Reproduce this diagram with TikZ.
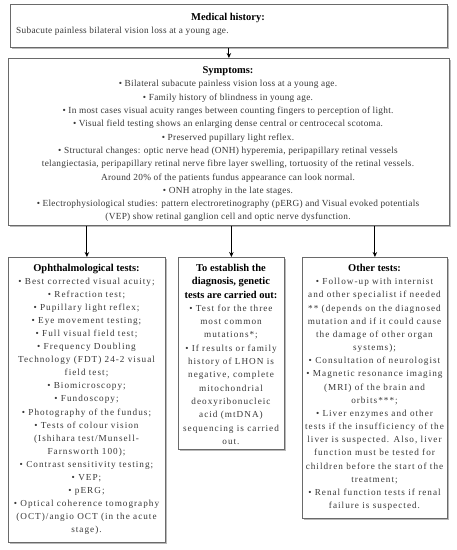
\documentclass[tikz,border=0pt]{standalone}
\usepackage{fontspec}
\setmainfont{Liberation Serif}
\newfontfamily\symfont[LetterSpace=3]{Liberation Serif}
\newfontfamily\lowfont[LetterSpace=11]{Liberation Serif}
\usetikzlibrary{arrows.meta,shadows}
\definecolor{bordercol}{HTML}{6A6A6A}
\definecolor{txtcol}{HTML}{383838}
\newcommand{\ttl}{\rmfamily\bfseries\fontsize{10.5}{12.4}\selectfont\color{black}}
\begin{document}
\begin{tikzpicture}[x=1pt,y=-1pt,
  box/.style={draw=bordercol, fill=white, line width=0.8pt, inner sep=0pt, anchor=north west,
    drop shadow={shadow xshift=1.1pt, shadow yshift=-1.1pt, fill=black!55}},
  symtxt/.style={font=\symfont\fontsize{9.3}{13.3}\selectfont, text=txtcol, align=center, inner sep=0pt, anchor=north},
  lowtxt/.style={font=\lowfont\fontsize{9.2}{13.2}\selectfont, text=txtcol, align=center, inner sep=0pt, anchor=north},
  arr/.style={-{Stealth[length=5pt,width=4.5pt]}, line width=0.9pt, draw=black}]
\useasboundingbox (0,0) rectangle (457,550);
% boxes
\node[box, minimum width=437pt, minimum height=43pt] (mh) at (10,4) {};
\node[box, minimum width=441pt, minimum height=167pt] (sy) at (8,58) {};
\node[box, minimum width=157pt, minimum height=285pt] (op) at (8,257) {};
\node[box, minimum width=106pt, minimum height=192pt] (ge) at (178,257) {};
\node[box, minimum width=145pt, minimum height=261pt] (ot) at (302,257) {};
% medical history
\node[font=\ttl, inner sep=0pt, anchor=base] (mht) at (228,20) {Medical history:};
\node[symtxt, anchor=base west] (mhx) at (16,33) {Subacute painless bilateral vision loss at a young age.};
% symptoms
\node[symtxt] (syt) at (228,66.5) {{\ttl Symptoms:}\\
• Bilateral subacute painless vision loss at a young age.\\
• Family history of blindness in young age.\\
• In most cases visual acuity ranges between counting fingers to perception of light.\\
• Visual field testing shows an enlarging dense central or centrocecal scotoma.\\
• Preserved pupillary light reflex.\\
• Structural changes: optic nerve head (ONH) hyperemia, peripapillary retinal vessels\\
telangiectasia, peripapillary retinal nerve fibre layer swelling, tortuosity of the retinal vessels.\\
Around 20\% of the patients fundus appearance can look normal.\\
• ONH atrophy in the late stages.\\
• Electrophysiological studies: pattern electroretinography (pERG) and Visual evoked potentials\\
(VEP) show retinal ganglion cell and optic nerve dysfunction.};
% ophthalmological
\node[lowtxt, font=\lowfont\fontsize{9.2}{13.05}\selectfont] (opt) at (86.5,264) {{\ttl Ophthalmological tests:}\\
• Best corrected visual acuity;\\
• Refraction test;\\
• Pupillary light reflex;\\
• Eye movement testing;\\
• Full visual field test;\\
• Frequency Doubling\\
Technology (FDT) 24-2 visual\\
field test;\\
• Biomicroscopy;\\
• Fundoscopy;\\
• Photography of the fundus;\\
• Tests of colour vision\\
(Ishihara test/Munsell-\\
Farnsworth 100);\\
• Contrast sensitivity testing;\\
• VEP;\\
• pERG;\\
• Optical coherence tomography\\
(OCT)/angio OCT (in the acute\\
stage).};
% genetic
\node[lowtxt, font=\lowfont\fontsize{9.2}{13.3}\selectfont] (get) at (231,264) {{\ttl To establish the}\\
{\ttl diagnosis, genetic}\\
{\ttl tests are carried out:}\\
• Test for the three\\
most common\\
mutations*;\\
• If results or family\\
history of LHON is\\
negative, complete\\
mitochondrial\\
deoxyribonucleic\\
acid (mtDNA)\\
sequencing is carried\\
out.};
% other
\node[lowtxt, font=\lowfont\fontsize{9.2}{13.17}\selectfont] (ott) at (374.5,264) {{\ttl Other tests:}\\
• Follow-up with internist\\
and other specialist if needed\\
** (depends on the diagnosed\\
mutation and if it could cause\\
the damage of other organ\\
systems);\\
• Consultation of neurologist\\
• Magnetic resonance imaging\\
(MRI) of the brain and\\
orbits***;\\
• Liver enzymes and other\\
tests if the insufficiency of the\\
liver is suspected. Also, liver\\
function must be tested for\\
children before the start of the\\
treatment;\\
• Renal function tests if renal\\
failure is suspected.};
% arrows
\draw[arr] (mh.south) -- (sy.north);
\draw[arr] (sy.south -| op.north) -- (op.north);
\draw[arr] (sy.south -| ge.north) -- (ge.north);
\draw[arr] (sy.south -| ot.north) -- (ot.north);
\end{tikzpicture}
\end{document}
